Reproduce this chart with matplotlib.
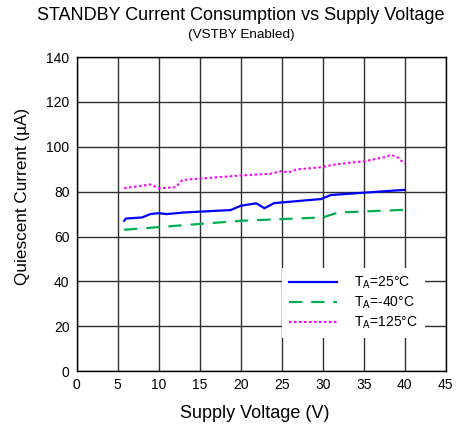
import matplotlib
matplotlib.use("Agg")
import matplotlib.pyplot as plt

plt.rcParams['font.family'] = ['Liberation Sans', 'DejaVu Sans']
plt.rcParams['mathtext.fontset'] = 'custom'
plt.rcParams['mathtext.rm'] = 'Liberation Sans'
plt.rcParams['mathtext.it'] = 'Liberation Sans'

# supply voltage (V) vs quiescent current (uA) per temperature
v_25 = [5.8, 6.0, 8.0, 9.0, 10.0, 11.0, 13.1, 18.8, 20.0, 21.9, 22.9, 24.1, 29.8, 31.0, 40.0]
i_25 = [67.0, 68.0, 68.5, 70.0, 70.4, 70.0, 70.7, 71.8, 73.7, 74.8, 72.6, 74.9, 76.7, 78.5, 80.8]

v_m40 = [5.8, 20.0, 30.0, 31.9, 40.0]
i_m40 = [63.0, 67.0, 68.5, 70.7, 71.9]

v_125 = [5.8, 9.0, 10.0, 12.1, 12.9, 20.0, 23.7, 25.0, 25.8, 26.8, 29.8, 31.5, 33.1, 35.0, 37.6, 38.3, 39.1, 40.0]
i_125 = [81.5, 83.2, 81.5, 82.0, 85.2, 87.2, 88.0, 89.2, 88.5, 89.9, 90.9, 92.1, 92.8, 93.5, 95.4, 96.4, 95.4, 92.4]

x_ticks = list(range(0, 50, 5))
y_ticks = list(range(0, 160, 20))

fig = plt.figure(figsize=(4.61, 4.29), dpi=100)
ax = fig.add_axes([0.166, 0.135, 0.801, 0.732])

ax.plot(v_25, i_25, color='#0000ff', lw=1.6, label=r'T$_\mathregular{A}$=25°C')
ax.plot(v_m40, i_m40, color='#00b050', lw=1.6, dashes=(6, 4), label=r'T$_\mathregular{A}$=-40°C')
ax.plot(v_125, i_125, color='#ff00ff', lw=1.5, dashes=(1.2, 1.2), label=r'T$_\mathregular{A}$=125°C')

ax.set_xlim(0, 45)
ax.set_ylim(0, 140)
ax.set_xticks(x_ticks)
ax.set_yticks(y_ticks)
ax.tick_params(length=0, labelsize=10, pad=5)
ax.grid(True, color='#303030', lw=1.0)
ax.set_axisbelow(True)
for s in ax.spines.values():
    s.set_color('black')
    s.set_linewidth(1.0)

# titles and axis labels placed in figure coords
fig.text(0.522, 0.965, 'STANDBY Current Consumption vs Supply Voltage', ha='center', va='center', fontsize=13)
fig.text(0.524, 0.918, '(VSTBY Enabled)', ha='center', va='center', fontsize=9.7)
fig.text(0.553, 0.037, 'Supply Voltage (V)', ha='center', va='center', fontsize=13)
fig.text(0.048, 0.542, 'Quiescent Current (µA)', ha='center', va='center', rotation=90, fontsize=12.3)

leg = ax.legend(loc='lower right', bbox_to_anchor=(0.943, 0.105), borderaxespad=0, fontsize=10,
                frameon=True, facecolor='white', edgecolor='none', framealpha=1,
                fancybox=False, handlelength=3.45, handletextpad=1.2, labelspacing=0.25,
                borderpad=0.5)

fig.savefig('out.png', dpi=100)
